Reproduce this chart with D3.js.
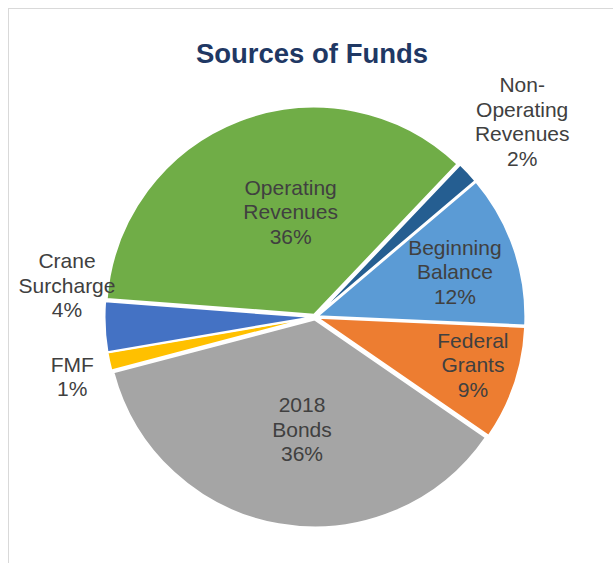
<!DOCTYPE html>
<meta charset="utf-8">
<html>
<head>
<style>
  body { margin: 0; background: #fff; }
  text { font-family: "Liberation Sans", Arial, sans-serif; }
</style>
</head>
<body>
<div id="chart"></div>
<script src="https://d3js.org/d3.v7.min.js"></script>
<script>

// slice data, clockwise from the top right
var names = ["Beginning Balance", "Federal Grants", "2018 Bonds", "FMF", "Crane Surcharge", "Operating Revenues", "Non-Operating Revenues"];
var labelLines = [["Beginning", "Balance"], ["Federal", "Grants"], ["2018", "Bonds"], ["FMF"], ["Crane", "Surcharge"], ["Operating", "Revenues"], ["Non-", "Operating", "Revenues"]];
var values = [11.9, 8.9, 36.3, 1.4, 3.9, 35.9, 1.7];
var colors = ["#5B9BD5", "#ED7D31", "#A5A5A5", "#FFC000", "#4472C4", "#70AD47", "#255E91"];

// label placement: [distance from centre, degrees turned from slice middle]
var labelNudge = {
  "Beginning Balance": [147, 1],
  "Federal Grants": [165, -1.7],
  "2018 Bonds": [113, -3.3],
  "FMF": [250, -1.6],
  "Crane Surcharge": [250, 10],
  "Operating Revenues": [108, 8],
  "Non-Operating Revenues": [285, 0]
};

var width = 613, height = 563;
var cx = 315, cy = 317, radius = 208, explode = 2.5;

var svg = d3.select("#chart").append("svg")
  .attr("width", width)
  .attr("height", height);

// chart area border (runs off the page right and bottom)
svg.append("rect")
  .attr("x", 8.5).attr("y", 8.5)
  .attr("width", 800).attr("height", 800)
  .attr("fill", "none")
  .attr("stroke", "#d9d9d9")
  .attr("stroke-width", 1);

svg.append("text")
  .attr("x", 312)
  .attr("y", 63)
  .attr("text-anchor", "middle")
  .attr("font-size", "27.5px")
  .attr("font-weight", "bold")
  .attr("fill", "#1F3864")
  .text("Sources of Funds");

var total = d3.sum(values);
var data = names.map(function(n, i) {
  return { name: n, value: values[i], lines: labelLines[i], color: colors[i] };
});

var startDeg = 49.7;
var pie = d3.pie()
  .sort(null)
  .value(function(d) { return d.value; })
  .startAngle(startDeg * Math.PI / 180)
  .endAngle((startDeg + 360) * Math.PI / 180);

var arc = d3.arc().innerRadius(0).outerRadius(radius);

var g = svg.append("g").attr("transform", "translate(" + cx + "," + cy + ")");
var arcs = pie(data);

g.selectAll("path")
  .data(arcs)
  .enter().append("path")
    .attr("d", arc)
    .attr("fill", function(d) { return d.data.color; })
    .attr("stroke", "#fff")
    .attr("stroke-width", 2)
    .attr("transform", function(d) {
      var a = (d.startAngle + d.endAngle) / 2;
      return "translate(" + (Math.sin(a) * explode) + "," + (-Math.cos(a) * explode) + ")";
    });

// labels
var lineH = 24.5;
arcs.forEach(function(d) {
  var nudge = labelNudge[d.data.name];
  var a = (d.startAngle + d.endAngle) / 2 + nudge[1] * Math.PI / 180;
  var x = Math.sin(a) * nudge[0];
  var y = -Math.cos(a) * nudge[0];
  var lines = d.data.lines.concat([Math.round(d.data.value / total * 100) + "%"]);
  var t = g.append("text")
    .attr("text-anchor", "middle")
    .attr("font-size", "21px")
    .attr("fill", "#404040");
  var y0 = y - (lines.length - 1) * lineH / 2 + 7.5;
  lines.forEach(function(s, i) {
    t.append("tspan").attr("x", x).attr("y", y0 + i * lineH).text(s);
  });
});

</script>
</body>
</html>
